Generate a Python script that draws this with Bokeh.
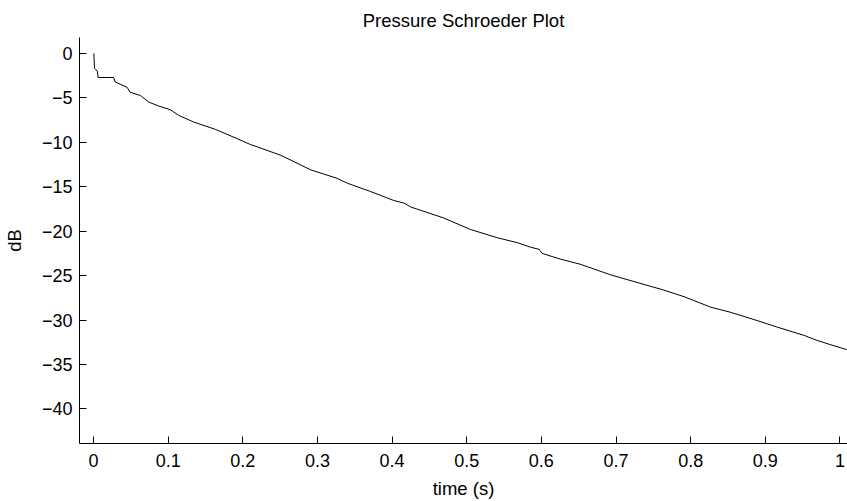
from bokeh.plotting import figure
from bokeh.models import Range1d, FixedTicker, CustomJSTickFormatter, Title
from bokeh.embed import file_html
from bokeh.resources import INLINE

# Schroeder decay curve (time in s, level in dB)
time_s = [0.0005, 0.0008, 0.0015, 0.0025, 0.005, 0.0062, 0.027, 0.029, 0.045, 0.049,
          0.063, 0.074, 0.0875, 0.103, 0.114, 0.134, 0.163, 0.192, 0.210, 0.219,
          0.25, 0.255, 0.291, 0.326, 0.340, 0.371, 0.402, 0.416, 0.425, 0.469,
          0.505, 0.541, 0.568, 0.585, 0.597, 0.601, 0.626, 0.652, 0.693, 0.728,
          0.764, 0.791, 0.827, 0.853, 0.889, 0.916, 0.952, 0.969, 0.987, 1.009]
level_db = [0.0, -0.6, -1.7, -1.8, -1.95, -2.7, -2.7, -3.2, -3.8, -4.36,
            -4.73, -5.47, -5.92, -6.33, -6.96, -7.71, -8.53, -9.57, -10.24, -10.5,
            -11.43, -11.62, -13.1, -14.04, -14.6, -15.53, -16.54, -16.84, -17.28, -18.51,
            -19.81, -20.74, -21.3, -21.79, -22.05, -22.5, -23.16, -23.72, -24.92, -25.77,
            -26.63, -27.37, -28.56, -29.12, -30.06, -30.8, -31.73, -32.29, -32.77, -33.33]

x_ticks = [0, 0.1, 0.2, 0.3, 0.4, 0.5, 0.6, 0.7, 0.8, 0.9, 1.0]
y_ticks = [0, -5, -10, -15, -20, -25, -30, -35, -40]
title_text = "Pressure Schroeder Plot"

FONT = "Liberation Sans"

p = figure(width=847, height=501, output_backend="svg", toolbar_location=None,
           x_range=Range1d(-0.01875, 1.0101), y_range=Range1d(-43.9, 1.8),
           min_border_left=79, min_border_right=0, min_border_top=35, min_border_bottom=57)
p.outline_line_color = None
p.xgrid.visible = False
p.ygrid.visible = False
p.background_fill_color = "white"
p.border_fill_color = "white"

p.line(time_s, level_db, line_color="black", line_width=1.0)

t = Title(text=title_text, align="center", text_font=FONT,
          text_font_size="18.5px", text_font_style="normal", text_color="black",
          standoff=14)
p.add_layout(t, "above")

for ax in (p.xaxis[0], p.yaxis[0]):
    ax.major_tick_in = 7
    ax.major_tick_out = 0
    ax.minor_tick_line_color = None
    ax.axis_line_color = "black"
    ax.major_tick_line_color = "black"
    ax.major_label_text_font = FONT
    ax.major_label_text_font_size = "18px"
    ax.major_label_text_color = "black"
    ax.axis_label_text_font = FONT
    ax.axis_label_text_font_size = "18.5px"
    ax.axis_label_text_font_style = "normal"
    ax.axis_label_text_color = "black"

p.xaxis.ticker = FixedTicker(ticks=x_ticks)
p.yaxis.ticker = FixedTicker(ticks=y_ticks)
fmt = CustomJSTickFormatter(code="""
const v = Number(tick.toFixed(2));
return v < 0 ? "\\u2212" + Math.abs(v).toString() : v.toString();
""")
p.xaxis.formatter = fmt
p.yaxis.formatter = fmt
p.xaxis.axis_label = "time (s)"
p.yaxis.axis_label = "dB"
p.xaxis.major_label_standoff = 10
p.xaxis.axis_label_standoff = 8
p.yaxis.major_label_standoff = 7
p.yaxis.axis_label_standoff = 14

open("out.html", "w").write(file_html(p, INLINE))
